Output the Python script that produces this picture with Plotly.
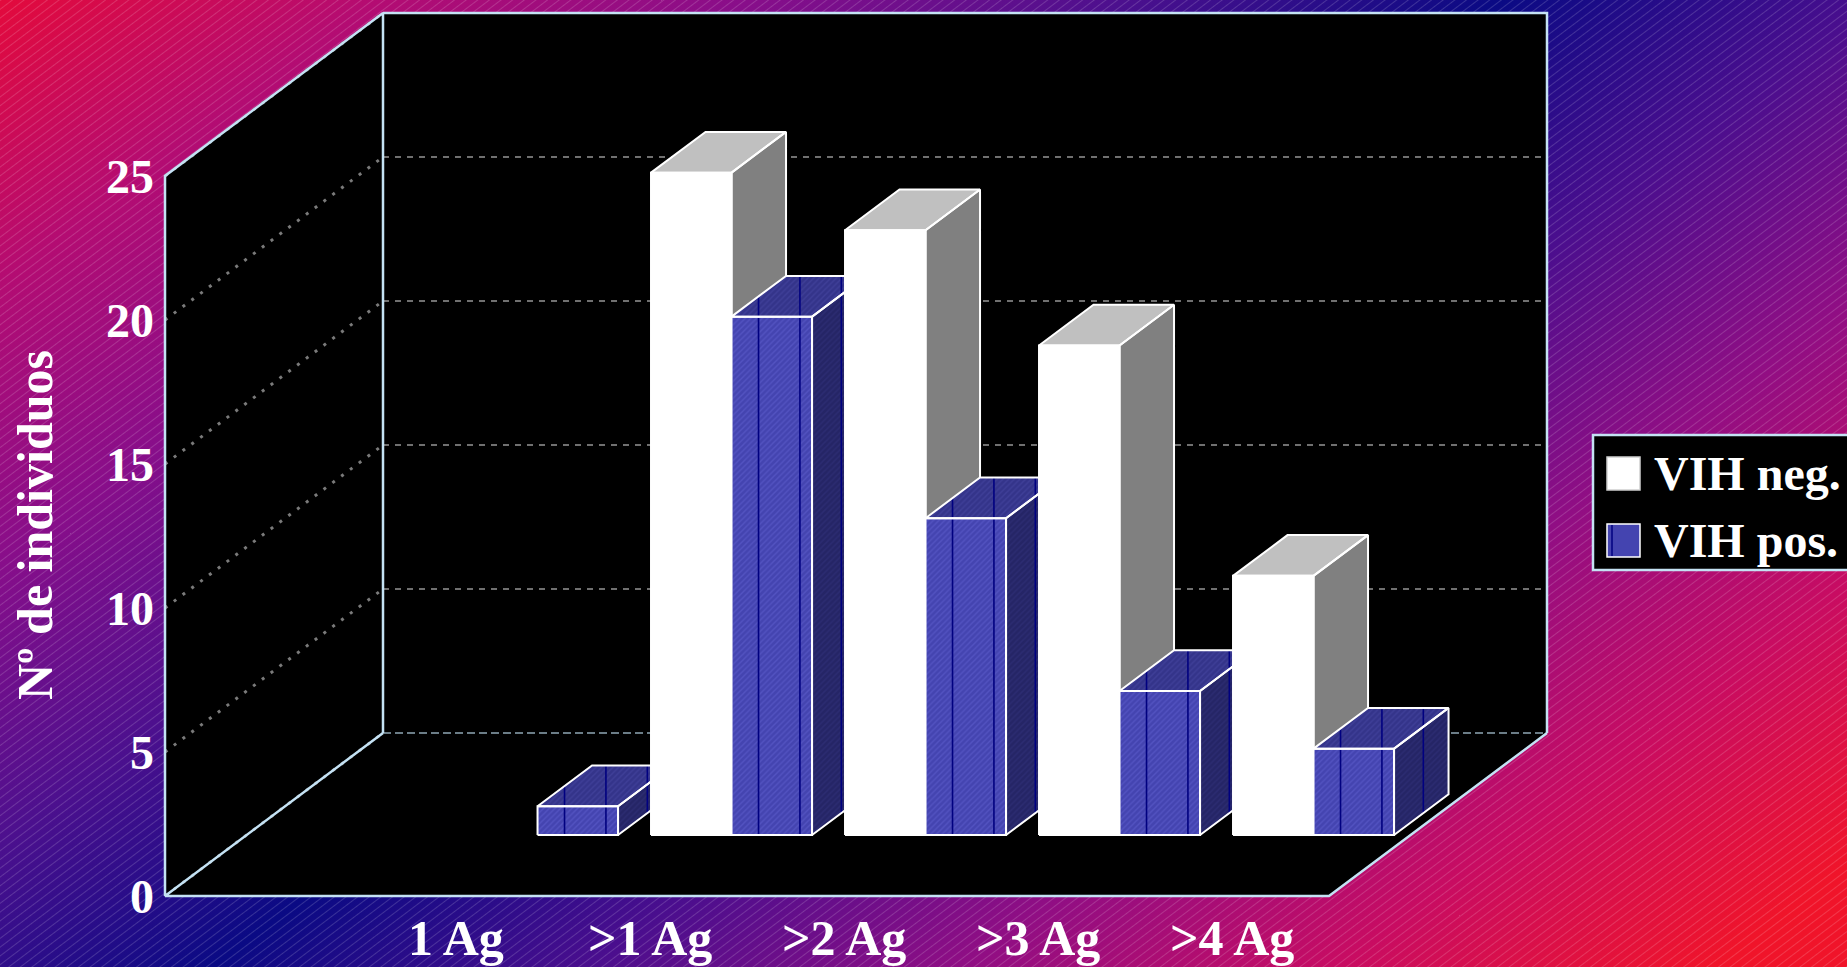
import base64
import plotly.graph_objects as go

# ---------------- data ----------------
categories = ["1 Ag", ">1 Ag", ">2 Ag", ">3 Ag", ">4 Ag"]
vih_neg = [0, 23, 21, 17, 9]
vih_pos = [1, 18, 11, 5, 3]
series_names = ["VIH neg.", "VIH pos."]
y_ticks = [0, 5, 10, 15, 20, 25]
y_title = "Nº de individuos"

# ---------------- layout constants ----------------
W, H = 1847, 967
ORIGIN_X_PX, ORIGIN_Y_PX = 165, 896      # front-left floor corner
CAT_PX = 194.0                           # px per category slot
UNIT_PX = 28.8                           # px per value unit
DEPTH_X_PX, DEPTH_Y_PX = 218.0, 163.0    # oblique depth offset
N_SLOTS = 6
FIRST_SLOT = 1                           # first slot is empty
Y_MAX = 25
BAR_W = 0.415
BAR_D0, BAR_D1 = 0.374, 0.624
TEX_PERIOD = 41.4 / CAT_PX               # texture tile width of the hatched fill
TEX_OFFSET = 27.0 / CAT_PX

DU = DEPTH_X_PX / CAT_PX
DV = DEPTH_Y_PX / UNIT_PX
X_RANGE = [-ORIGIN_X_PX / CAT_PX, (W - ORIGIN_X_PX) / CAT_PX]
Y_RANGE = [(ORIGIN_Y_PX - H) / UNIT_PX, ORIGIN_Y_PX / UNIT_PX]

FONT = "Liberation Serif, Times New Roman, serif"
BORDER = "#c4e2f4"
GRID = "#707070"


def P(u, v, d):
    return u + d * DU, v + d * DV


def poly(points, fill, line_color=None, line_width=0, pattern=None):
    xs = [p[0] for p in points] + [points[0][0]]
    ys = [p[1] for p in points] + [points[0][1]]
    kw = dict(x=xs, y=ys, mode="lines", fill="toself", fillcolor=fill,
              hoverinfo="skip", showlegend=False,
              line=dict(color=line_color or fill, width=line_width))
    if pattern:
        kw["fillpattern"] = pattern
    return go.Scatter(**kw)


def lines(segments, color, width, dash="solid"):
    xs, ys = [], []
    for seg in segments:
        for p in seg:
            xs.append(p[0]); ys.append(p[1])
        xs.append(None); ys.append(None)
    return go.Scatter(x=xs, y=ys, mode="lines", hoverinfo="skip",
                      showlegend=False,
                      line=dict(color=color, width=width, dash=dash))


fig = go.Figure()

# ---------------- walls & floor ----------------
U1 = N_SLOTS
fig.add_trace(poly([P(0, 0, 0), P(0, Y_MAX, 0), P(0, Y_MAX, 1), P(0, 0, 1)], "#000000"))
fig.add_trace(poly([P(0, 0, 1), P(0, Y_MAX, 1), P(U1, Y_MAX, 1), P(U1, 0, 1)], "#000000"))
fig.add_trace(poly([P(0, 0, 0), P(U1, 0, 0), P(U1, 0, 1), P(0, 0, 1)], "#000000"))

# gridlines
fig.add_trace(lines([[P(0, v, 1), P(U1, v, 1)] for v in y_ticks[1:]], GRID, 2, "6px,6px"))
fig.add_trace(lines([[P(0, v, 0), P(0, v, 1)] for v in y_ticks], "#7a7a7a", 3, "3px,8px"))
fig.add_trace(lines([[P(0, 0, 1), P(U1, 0, 1)]], "#8fa6b4", 1.5, "8px,4px"))

# borders
fig.add_trace(lines([
    [P(0, 0, 0), P(0, Y_MAX, 0), P(0, Y_MAX, 1), P(0, 0, 1)],
    [P(0, Y_MAX, 1), P(U1, Y_MAX, 1), P(U1, 0, 1)],
    [P(0, 0, 1), P(0, 0, 0), P(U1, 0, 0), P(U1, 0, 1)],
], BORDER, 2.5))

# ---------------- bars ----------------
styles = {
    0: dict(front="#ffffff", top="#c0c0c0", side="#808080", pattern=None),
    1: dict(front="#4444b0", top="#34348a", side="#252566",
            pattern=dict(shape="/", size=4, solidity=0.35, fgcolor="#6262d2")),
}
series = [vih_neg, vih_pos]


def texture_lines(u0, u1, h):
    """screen-vertical tile seams of the hatched texture, clipped to the bar silhouette"""
    fb0, fb1 = P(u0, 0, BAR_D0), P(u1, 0, BAR_D0)
    sb1 = P(u1, 0, BAR_D1)
    ft0 = P(u0, h, BAR_D0)
    bt0, bt1 = P(u0, h, BAR_D1), P(u1, h, BAR_D1)
    segs = []
    x = fb0[0] + TEX_OFFSET
    while x < bt1[0] - 0.01:
        if x <= fb1[0]:
            yb = fb0[1]
        else:
            t = (x - fb1[0]) / (sb1[0] - fb1[0])
            yb = fb1[1] + t * (sb1[1] - fb1[1])
        if x <= bt0[0]:
            t = (x - ft0[0]) / (bt0[0] - ft0[0])
            yt = ft0[1] + t * (bt0[1] - ft0[1])
        else:
            yt = bt0[1]
        segs.append([(x, yb), (x, yt)])
        x += TEX_PERIOD
    return segs


for i, cat in enumerate(categories):
    c = FIRST_SLOT + 0.5 + i
    for s, vals in enumerate(series):
        h = vals[i]
        if h <= 0:
            continue
        u0 = c - BAR_W if s == 0 else c
        u1 = u0 + BAR_W
        st = styles[s]
        pat_top = pat_side = None
        if st["pattern"]:
            pat_top = dict(st["pattern"], fgcolor="#4a4aa6")
            pat_side = dict(st["pattern"], fgcolor="#34347e")
        side = [P(u1, 0, BAR_D0), P(u1, 0, BAR_D1), P(u1, h, BAR_D1), P(u1, h, BAR_D0)]
        top = [P(u0, h, BAR_D0), P(u1, h, BAR_D0), P(u1, h, BAR_D1), P(u0, h, BAR_D1)]
        front = [P(u0, 0, BAR_D0), P(u1, 0, BAR_D0), P(u1, h, BAR_D0), P(u0, h, BAR_D0)]
        fig.add_trace(poly(side, st["side"], pattern=pat_side))
        fig.add_trace(poly(top, st["top"], pattern=pat_top))
        fig.add_trace(poly(front, st["front"], pattern=st["pattern"]))
        if s == 1:
            fig.add_trace(lines(texture_lines(u0, u1, h), "#000080", 1.6))
        fig.add_trace(lines([side + [side[0]], top + [top[0]], front + [front[0]]],
                            "#ffffff", 2))

# ---------------- text ----------------
ann = []
for v in y_ticks:
    x, y = P(0, v, 0)
    ann.append(dict(x=x, y=y, xref="x", yref="y", text=str(v), showarrow=False,
                    xanchor="right", yanchor="middle", xshift=-9,
                    font=dict(family=FONT, size=48, color="white", weight="bold")))
for i, cat in enumerate(categories):
    x, y = P(FIRST_SLOT + 0.5 + i, 0, 0)
    ann.append(dict(x=x, y=y, xref="x", yref="y", text=cat, showarrow=False,
                    xanchor="center", yanchor="middle", yshift=-42,
                    font=dict(family=FONT, size=50, color="white", weight="bold")))
ann.append(dict(x=35 / W, y=1 - 525 / H, xref="paper", yref="paper", text=y_title,
                showarrow=False, textangle=-90, xanchor="center", yanchor="middle",
                font=dict(family=FONT, size=50, color="white", weight="bold")))

# legend (manual)
shapes = [dict(type="rect", xref="paper", yref="paper", x0=1593 / W, x1=1.01,
               y0=1 - 570 / H, y1=1 - 435 / H, fillcolor="#000000",
               line=dict(color=BORDER, width=2.5), layer="above")]
leg_rows = [(457, 490, "#ffffff", "#d0d0d0"), (524, 557, "#4444b0", "#ffffff")]
for (y0, y1, fc, lc), name in zip(leg_rows, series_names):
    shapes.append(dict(type="rect", xref="paper", yref="paper", x0=1607 / W, x1=1640 / W,
                       y0=1 - y1 / H, y1=1 - y0 / H, fillcolor=fc,
                       line=dict(color=lc, width=1.5), layer="above"))
    ann.append(dict(x=1652 / W, y=1 - (y0 + y1) / 2 / H, xref="paper", yref="paper",
                    text=name, showarrow=False, xanchor="left", yanchor="middle",
                    font=dict(family=FONT, size=48, color="white", weight="bold")))
shapes.append(dict(type="line", xref="paper", yref="paper", x0=1612 / W, x1=1612 / W,
                   y0=1 - 556 / H, y1=1 - 525 / H, line=dict(color="#000080", width=1.5),
                   layer="above"))

# ---------------- background (gradient + fine stripes) ----------------
stops = [(0.0, "#e30a3c"), (0.125, "#b40c72"), (0.25, "#880e8a"), (0.375, "#4c108e"),
         (0.5, "#0a0a84"), (0.625, "#4a0e8e"), (0.75, "#900e84"), (0.875, "#c80c62"),
         (1.0, "#f0142a")]
stop_xml = "".join(f'<stop offset="{o}" stop-color="{c}"/>' for o, c in stops)
svg = (f'<svg xmlns="http://www.w3.org/2000/svg" width="{W}" height="{H}" '
       f'viewBox="0 0 {W} {H}" preserveAspectRatio="none"><defs>'
       f'<linearGradient id="g" gradientUnits="userSpaceOnUse" x1="0" y1="0" x2="1081" y2="1441">'
       f'{stop_xml}</linearGradient>'
       f'<pattern id="p" patternUnits="userSpaceOnUse" width="7" height="7" '
       f'patternTransform="rotate(-37)"><line x1="0" y1="0.5" x2="7" y2="0.5" '
       f'stroke="#ffffff" stroke-opacity="0.16" stroke-width="1"/></pattern></defs>'
       f'<rect width="{W}" height="{H}" fill="url(#g)"/>'
       f'<rect width="{W}" height="{H}" fill="url(#p)"/></svg>')
src = "data:image/svg+xml;base64," + base64.b64encode(svg.encode()).decode()

fig.update_layout(
    width=W, height=H, margin=dict(l=0, r=0, t=0, b=0, pad=0),
    paper_bgcolor="#4a0e8e", plot_bgcolor="rgba(0,0,0,0)",
    xaxis=dict(range=X_RANGE, visible=False, fixedrange=True),
    yaxis=dict(range=Y_RANGE, visible=False, fixedrange=True),
    showlegend=False, annotations=ann, shapes=shapes,
    images=[dict(source=src, xref="paper", yref="paper", x=0, y=1, sizex=1, sizey=1,
                 xanchor="left", yanchor="top", sizing="stretch", layer="below")],
)
fig.write_html("out.html")
